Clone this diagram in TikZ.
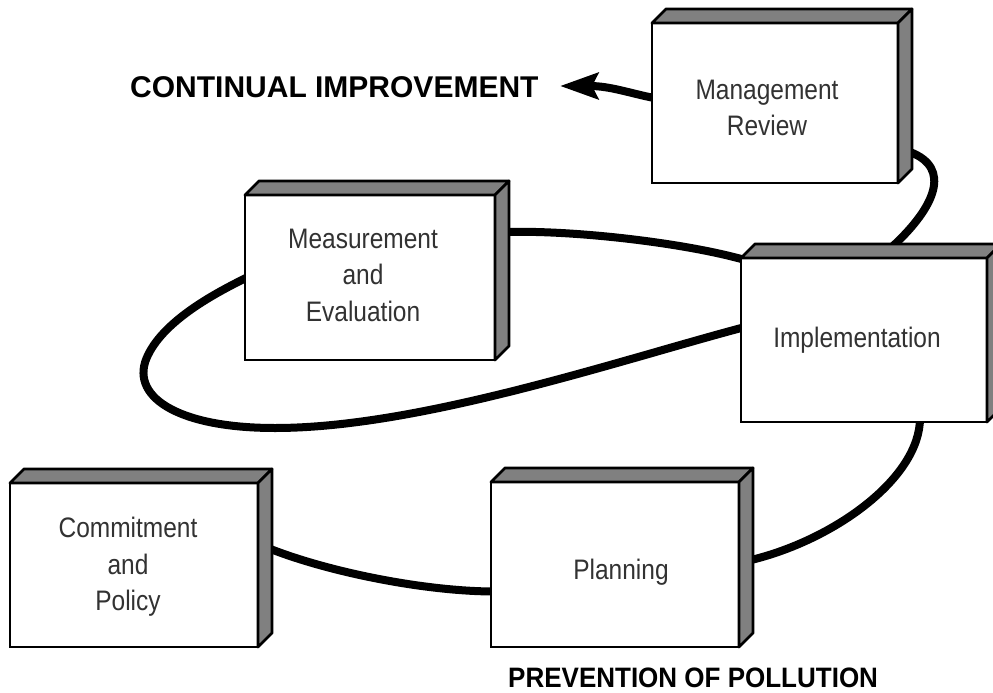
\documentclass[tikz,border=0pt]{standalone}
\usepackage{graphicx}
\usepackage{fontspec}
\setmainfont{Liberation Sans}
\usetikzlibrary{arrows.meta,backgrounds,calc}
\definecolor{sidegray}{RGB}{128,128,128}
\definecolor{txtgray}{RGB}{50,50,50}
% #1 horizontal shift, #2 vertical shift (TeX sense), #3 lines
\newcommand\boxlines[3]{\hspace*{#1}\raisebox{#2}[\height][\depth]{\scalebox{1}[1.15]{\fontsize{24.5}{31.7}\selectfont\begin{tabular}{@{}c@{}}#3\end{tabular}}}\hspace*{-#1}}
\begin{document}
\begin{tikzpicture}[x=1pt,y=-1pt,
  cube/.style={draw=black, line width=2.8pt, fill=white, minimum width=248pt, minimum height=164pt, inner sep=0pt, outer sep=0pt, text=txtgray},
  face/.style={draw=black, line width=2.8pt, fill=sidegray, line join=round},
  conn/.style={draw=black, line width=8pt},
  bigtext/.style={font=\fontsize{30}{36}\selectfont\bfseries, inner sep=0pt, anchor=base west}
]
\useasboundingbox (0,0) rectangle (993,693);
% boxes (front faces)
\node[cube, minimum width=246pt, minimum height=160pt] (mr) at (775,103) {\boxlines{-8pt}{-7pt}{Management\\Review}};
\node[cube, minimum width=250pt, minimum height=165pt] (me) at (370,277.5) {\boxlines{-7pt}{0pt}{Measurement\\and\\Evaluation}};
\node[cube, minimum width=246pt] (imp) at (864,340) {\boxlines{-7pt}{0pt}{Implementation}};
\node[cube] (cp) at (134,565) {\boxlines{-6pt}{-2pt}{Commitment\\and\\Policy}};
\node[cube, minimum height=165pt] (pl) at (615,564.5) {\boxlines{6pt}{-8pt}{Planning}};
% 3D faces
\foreach \n in {mr,me,imp,cp,pl}{
  \draw[face] (\n.north west) -- ++(14,-14) -- ([shift={(14,-14)}]\n.north east) -- (\n.north east) -- cycle;
  \draw[face] (\n.north east) -- ([shift={(14,-14)}]\n.north east) -- ([shift={(14,-14)}]\n.south east) -- (\n.south east) -- cycle;
}
% labels
\node[bigtext] (ci) at (130,97) {CONTINUAL IMPROVEMENT};
\node[bigtext, font=\fontsize{26}{30}\selectfont\bfseries] (pp) at (508,687) {\scalebox{1}[1.08]{PREVENTION OF POLLUTION}};
\coordinate (ciTip) at (560,86);
% connectors
\begin{scope}[on background layer]
  \fill[white] (0,0) rectangle (993,693);
  \draw[conn,-{Stealth[length=38pt,width=26pt,inset=6pt]}] ($(mr.west)+(2,-5)$) .. controls +(-25,-5) and +(50,0) .. (ciTip);
  \draw[conn] ($(mr.south east)+(12,-31)$) .. controls +(42,16) and +(42,-39) .. ($(imp.north)+(29,-12)$);
  \draw[conn] ($(me.east)+(10,-45.5)$) .. controls +(70,-2) and +(-60,-17) .. ($(imp.north west)+(4,2)$);
  \draw[conn] ($(imp.west)+(4,-13)$) .. controls (620,360) and (420,428) .. (275,428)
     .. controls (175,428) and (128,395) .. (148,355)
     .. controls (165,320) and (215,293) .. ($(me.west)+(4,-1)$);
  \draw[conn] ($(imp.south)+(56,-4)$) .. controls +(0,60) and +(85,-20) .. ($(pl.east)+(10,-4)$);
  \draw[conn] ($(cp.east)+(10,-17)$) .. controls +(60,24) and +(-70,0) .. ($(pl.west)+(4,27)$);
\end{scope}
\end{tikzpicture}
\end{document}
